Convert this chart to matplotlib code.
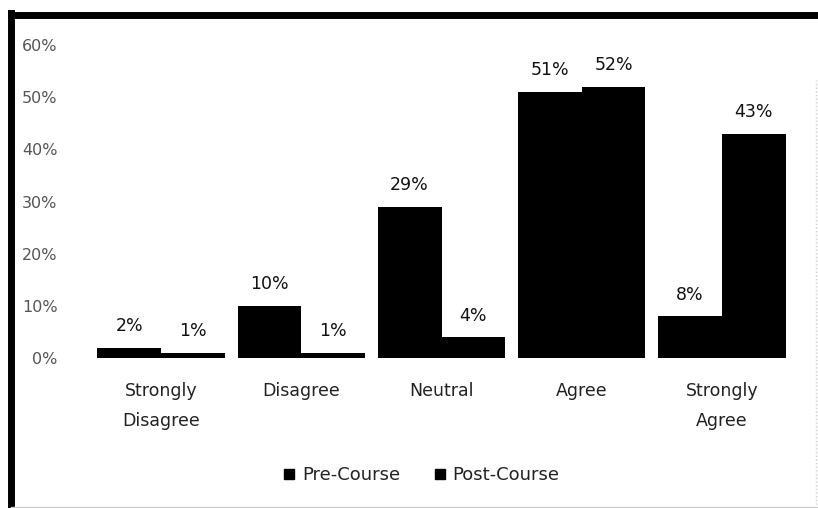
import numpy as np
import matplotlib.pyplot as plt
from matplotlib.lines import Line2D

categories = ['Strongly\nDisagree', 'Disagree', 'Neutral', 'Agree', 'Strongly\nAgree']
pre_course = [2, 10, 29, 51, 8]
post_course = [1, 1, 4, 52, 43]
series_names = ['Pre-Course', 'Post-Course']

plt.rcParams['font.family'] = ['DejaVu Sans']

fig = plt.figure(figsize=(8.18, 5.08), dpi=100)
ax = fig.add_axes([91 / 818, 1 - 358 / 508, 701 / 818, 313 / 508])

x = np.arange(len(categories))
w = 0.455
b1 = ax.bar(x - w / 2, pre_course, w, color='black', label=series_names[0])
b2 = ax.bar(x + w / 2, post_course, w, color='black', label=series_names[1])

for bars, vals in ((b1, pre_course), (b2, post_course)):
    for rect, v in zip(bars, vals):
        ax.annotate(f'{v:g}%', (rect.get_x() + rect.get_width() / 2, v),
                    xytext=(0, 9), textcoords='offset points',
                    ha='center', va='bottom', fontsize=12.5, color='#111111')

ax.set_xlim(-0.5, len(categories) - 0.5)
ax.set_ylim(0, 60)
ax.set_yticks(range(0, 61, 10))
ax.set_yticklabels([f'{t}%' for t in range(0, 61, 10)], fontsize=11.5, color='#555555')
ax.set_xticks(x)
ax.set_xticklabels(categories, fontsize=12.5, color='#222222', linespacing=1.9)
ax.tick_params(axis='both', length=0)
ax.tick_params(axis='y', pad=24)
ax.tick_params(axis='x', pad=17)
for s in ax.spines.values():
    s.set_visible(False)

handles = [Line2D([], [], marker='s', color='black', linestyle='none', markersize=7)
           for _ in series_names]
fig.legend(handles, series_names, loc='center', bbox_to_anchor=(419 / 818, 1 - 475 / 508),
           ncol=2, frameon=False, fontsize=13, handletextpad=0.1, columnspacing=1.6,
           handlelength=1.2, labelcolor='#222222')

# scanned frame: heavy top/left, faint right/bottom
fig.add_artist(Line2D([11 / 818, 11 / 818], [0, 1 - 13 / 508], transform=fig.transFigure,
                      color='black', linewidth=5, solid_capstyle='projecting'))
fig.add_artist(Line2D([11 / 818, 1], [1 - 15 / 508, 1 - 15 / 508], transform=fig.transFigure,
                      color='black', linewidth=5))
fig.add_artist(Line2D([11 / 818, 1], [1 / 508, 1 / 508], transform=fig.transFigure,
                      color='#cccccc', linewidth=1))
fig.add_artist(Line2D([816 / 818, 816 / 818], [0, 1 - 80 / 508], transform=fig.transFigure,
                      color='#cccccc', linewidth=1, linestyle=':'))

fig.savefig('out.png', dpi=100)
